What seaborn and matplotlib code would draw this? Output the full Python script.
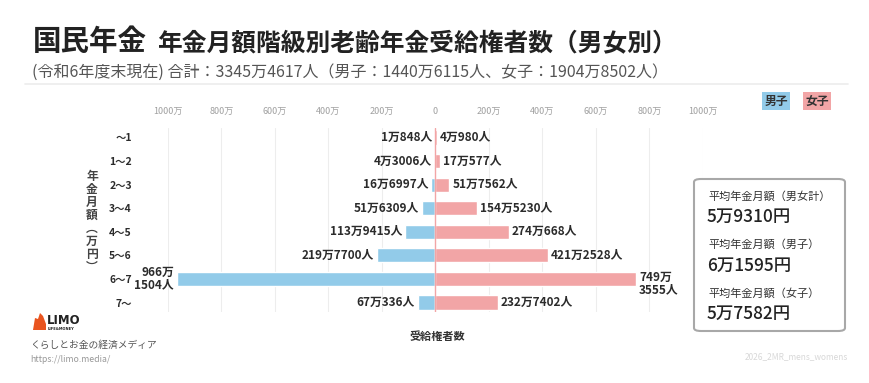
import numpy as np
import pandas as pd
import matplotlib
matplotlib.use("Agg")
import matplotlib.pyplot as plt
from matplotlib.patches import FancyBboxPatch, Polygon
import seaborn as sns

# ---- data ----
categories = ["～1", "1～2", "2～3", "3～4", "4～5", "5～6", "6～7", "7～"]
male = [10848, 43006, 166997, 516309, 1139415, 2197700, 9661504, 670336]
female = [40980, 170577, 517562, 1545230, 2740668, 4212528, 7493555, 2327402]
tick_values = [-1000, -800, -600, -400, -200, 0, 200, 400, 600, 800, 1000]
tick_labels = ["1000万", "800万", "600万", "400万", "200万", "0",
               "200万", "400万", "600万", "800万", "1000万"]
avg_labels = ["平均年金月額（男女計）", "平均年金月額（男子）", "平均年金月額（女子）"]
avg_values = ["5万9310円", "6万1595円", "5万7582円"]

BLUE = "#92cbe9"
PINK = "#f2a5a6"
DARK = "#2b2b2b"

sns.set_style("white")
plt.rcParams["font.family"] = ["Noto Sans CJK JP", "DejaVu Sans"]

W, H = 870, 383
fig = plt.figure(figsize=(W / 100, H / 100), dpi=100)
fig.patch.set_facecolor("white")


def fx(px):
    return px / W


def fy(py):
    return 1 - py / H


def fmt(v, split=False):
    man, rest = divmod(v, 10000)
    if split:
        return f"{man}万\n{rest}人"
    return f"{man}万{rest}人"


df = pd.DataFrame({
    "cat": categories,
    "male": -np.array(male) / 1e4,
    "female": np.array(female) / 1e4,
})

ax = fig.add_axes([fx(168), fy(312), fx(703) - fx(168), fy(128) - fy(312)])
for v in tick_values:
    if v != 0:
        ax.axvline(v, color="#ededed", lw=0.8, zorder=0)

sns.barplot(data=df, x="male", y="cat", order=categories, color=BLUE,
            orient="h", width=0.6, ax=ax, zorder=2, saturation=1)
sns.barplot(data=df, x="female", y="cat", order=categories, color=PINK,
            orient="h", width=0.6, ax=ax, zorder=2, saturation=1)
ax.axvline(0, color=PINK, lw=1.0, zorder=3)

ax.set_xlim(-1000, 1000)
ax.set_ylim(7.4, -0.4)
ax.set_xlabel("")
ax.set_ylabel("")
ax.xaxis.tick_top()
ax.set_xticks(tick_values)
ax.set_xticklabels(tick_labels, fontsize=6.5, color="#a0a0a0")
ax.tick_params(axis="x", length=0, pad=9)
ax.tick_params(axis="y", length=0, pad=26)
ax.set_yticks(range(len(categories)))
ax.set_yticklabels(categories, fontsize=7.5, fontweight="bold", color=DARK)
for s in ax.spines.values():
    s.set_visible(False)

pad = 11
fs = 8.5
for i, (m, f) in enumerate(zip(male, female)):
    mv, fv = m / 1e4, f / 1e4
    if m > 5e6:
        ax.text(-mv - pad, i, fmt(m, True), ha="right", va="center",
                fontsize=fs, fontweight="bold", color=DARK, linespacing=0.95,
                clip_on=False)
    else:
        ax.text(-mv - pad, i, fmt(m), ha="right", va="center",
                fontsize=fs, fontweight="bold", color=DARK)
    if f > 5e6:
        ax.text(fv + pad, i + 0.2, fmt(f, True), ha="left", va="center",
                fontsize=fs, fontweight="bold", color=DARK, linespacing=0.95)
    else:
        ax.text(fv + pad, i, fmt(f), ha="left", va="center",
                fontsize=fs, fontweight="bold", color=DARK)

# y-axis label (stacked vertical)
fig.text(fx(92), fy(222), "年\n金\n月\n額\n︵\n万\n円\n︶", ha="center",
         va="center", fontsize=8.5, fontweight="bold", color="#444444",
         linespacing=1.0)
fig.text(fx(437), fy(336), "受給権者数", ha="center", va="center",
         fontsize=8, fontweight="bold", color="#333333")

# titles
fig.text(fx(33), fy(42), "国民年金", ha="left", va="center", fontsize=20.5,
         fontweight="bold", color="#222222")
fig.text(fx(157), fy(43), "年金月額階級別老齢年金受給権者数（男女別）", ha="left",
         va="center", fontsize=17.8, fontweight="bold", color="#222222")
fig.text(fx(32), fy(72),
         "(令和6年度末現在) 合計：3345万4617人（男子：1440万6115人、女子：1904万8502人）",
         ha="left", va="center", fontsize=11.5, color="#555555")
fig.add_artist(plt.Line2D([fx(25), fx(848)], [fy(84), fy(84)], color="#ececec",
                          lw=1.2))

# legend
fig.text(fx(776), fy(101), "男子", ha="center", va="center", fontsize=8.5,
         fontweight="bold", color="#333333",
         bbox=dict(boxstyle="square,pad=0.22", fc=BLUE, ec="none"))
fig.text(fx(817), fy(101), "女子", ha="center", va="center", fontsize=8.5,
         fontweight="bold", color="#333333",
         bbox=dict(boxstyle="square,pad=0.22", fc=PINK, ec="none"))

# right info box
box = FancyBboxPatch((fx(694), fy(331)), fx(845) - fx(694), fy(179) - fy(331),
                     boxstyle="round,pad=0,rounding_size=0.008",
                     transform=fig.transFigure, fc="white", ec="#a8a8a8", lw=1.5)
fig.add_artist(box)
for k, (lab, val) in enumerate(zip(avg_labels, avg_values)):
    y0 = 196 + k * 48.5
    fig.text(fx(708), fy(y0), lab, ha="left", va="center", fontsize=8,
             color="#333333")
    fig.text(fx(707), fy(y0 + 21), val, ha="left", va="center", fontsize=12.5,
             fontweight="medium", color="#222222")

# logo and source
logo = Polygon([[fx(33), fy(330)], [fx(35), fy(318)], [fx(38), fy(319)],
                [fx(40), fy(313)], [fx(43), fy(316)], [fx(46), fy(324)],
                [fx(46), fy(330)]], closed=True, transform=fig.transFigure,
               fc="#e9541f", ec="none")
fig.add_artist(logo)
fig.text(fx(47), fy(321), "LIMO", ha="left", va="center", fontsize=8.5,
         fontweight="bold", color="#222222", family="DejaVu Sans")
fig.text(fx(47.5), fy(329), "LIFE&MONEY", ha="left", va="center", fontsize=2.6,
         fontweight="bold", color="#222222", family="DejaVu Sans")
fig.text(fx(30), fy(345), "くらしとお金の経済メディア", ha="left", va="center",
         fontsize=7, color="#555555")
fig.text(fx(30), fy(360), "https://limo.media/", ha="left", va="center",
         fontsize=6.3, color="#999999")
fig.text(fx(848), fy(357), "2026_2MR_mens_womens", ha="right", va="center",
         fontsize=6, color="#d8d8d8")

fig.savefig("out.png", dpi=100, facecolor="white")
